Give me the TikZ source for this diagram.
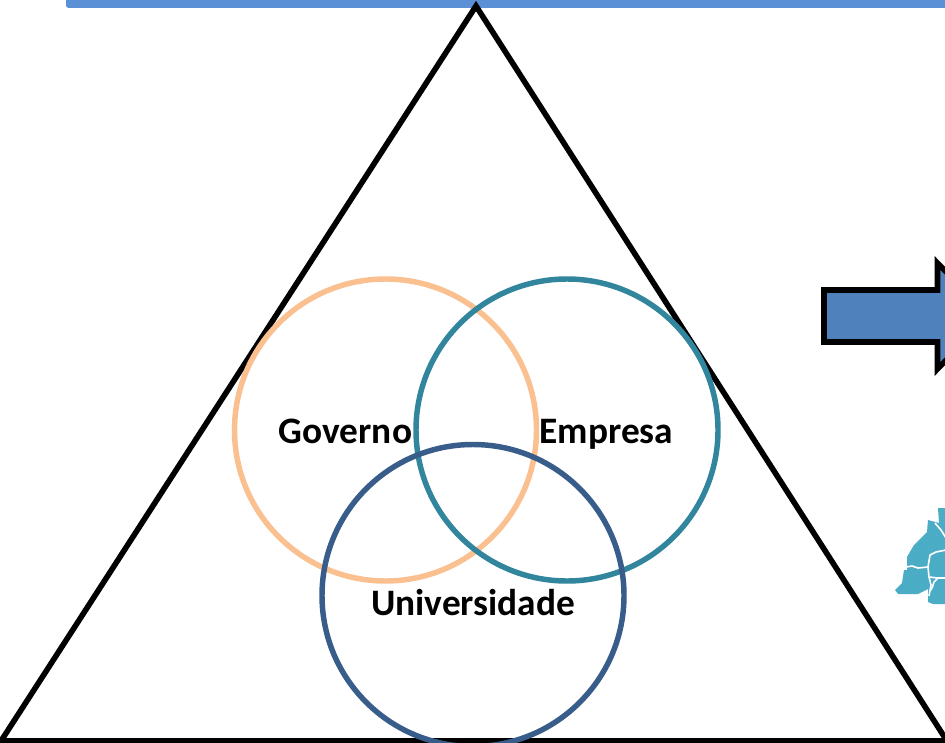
\documentclass[tikz,border=0pt]{standalone}
\usepackage{fontspec}
\setmainfont{Carlito}
\definecolor{barblue}{HTML}{5B8FD6}
\definecolor{arrowblue}{HTML}{4F81BD}
\definecolor{ringorange}{HTML}{FAC090}
\definecolor{ringteal}{HTML}{31859C}
\definecolor{ringblue}{HTML}{385D8A}
\definecolor{mapteal}{HTML}{4BACC6}
\tikzset{
  ring/.style={circle,draw=#1,line width=4.1pt,minimum size=226.5pt,inner sep=0pt,fill=none},
  label/.style={font=\fontsize{28pt}{32pt}\selectfont\bfseries,text=black,inner sep=0pt,anchor=base},
  mapborder/.style={draw=white,line width=1.2pt,line join=round}
}
\begin{document}
\begin{tikzpicture}[x=0.75pt,y=-0.75pt]
\useasboundingbox (0,0) rectangle (945,742);
\clip (0,0) rectangle (945,742);
\fill[white] (0,0) rectangle (945,742);
% top bar
\fill[barblue,rounded corners=2pt] (66,-10) rectangle (960,8);
% triangle
\draw[black,line width=4.2pt,line join=miter] (476,6) -- (947,741) -- (1,741) -- cycle;
% rings
\node[ring=ringorange] (gov) at (385.5,430) {};
\node[ring=ringteal] (emp) at (567,430) {};
\node[ring=ringblue] (uni) at (473,595.5) {};
% labels
\node[label] (tgov) at (345.5,443.5) {Governo};
\node[label] (temp) at (606.5,443.5) {Empresa};
\node[label] (tuni) at (473,615) {Universidade};
% block arrow
\draw[black,line width=4.2pt,fill=arrowblue,line join=miter,miter limit=10]
  (824,290) -- (937.5,290) -- (937.5,263) -- (990,316) -- (937.5,369) -- (937.5,342) -- (824,342) -- cycle;
% map
\fill[mapteal] (938,508) -- (939,523) -- (928,520) -- (927,532) -- (914,545) -- (907,557) -- (907,570) -- (904,570) -- (902,583) -- (895,590) -- (898,594) -- (918,594) -- (928,589) -- (928,602) -- (933,604) -- (945,604) -- (945,508) -- cycle;
\draw[mapborder] (906,567) -- (912,566) -- (918,568) -- (928,567) -- (930,555) -- (936,552) -- (946,550);
\draw[mapborder] (928,567) -- (929,577) -- (938,578) -- (946,578);
\draw[mapborder] (929,577) -- (931,585) -- (929,596);
\draw[mapborder] (938,578) -- (934,582) -- (932,588) -- (930,591);
\draw[mapborder] (935,523) -- (941,530) -- (946,538);
\end{tikzpicture}
\end{document}
